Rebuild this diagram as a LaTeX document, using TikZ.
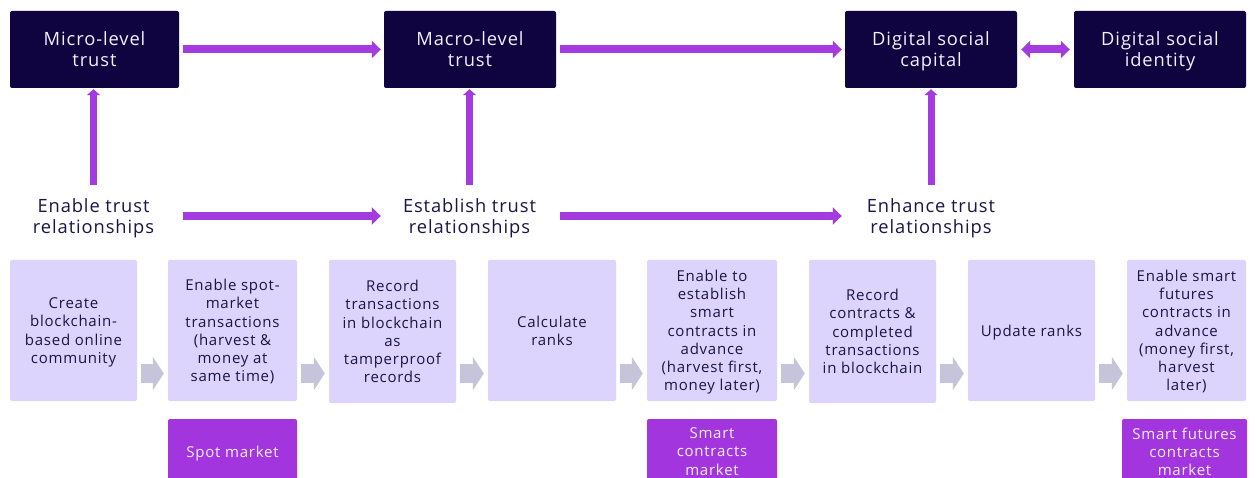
\documentclass[tikz,border=0pt]{standalone}
\usepackage{fontspec}
\setmainfont[LetterSpace=5]{Open Sans}
\usetikzlibrary{arrows.meta,calc}
\definecolor{navy}{HTML}{0F0340}
\definecolor{arrowc}{HTML}{A33BE0}
\definecolor{mktc}{HTML}{A235DD}
\definecolor{lightc}{HTML}{DCD4FC}
\definecolor{grayc}{HTML}{C6C4DA}
\definecolor{txtc}{HTML}{1A1548}
\definecolor{whitec}{HTML}{F4F0FF}
\begin{document}
\begin{tikzpicture}[x=1pt,y=-1pt,
  topbox/.style={fill=navy, rounded corners=2pt, text=whitec, font=\fontsize{18.3}{21}\selectfont, align=center, minimum height=77pt, inner sep=0pt, text depth=0pt},
  midlbl/.style={text=txtc, font=\fontsize{18.3}{21}\selectfont, align=center, inner xsep=0pt, inner ysep=14pt},
  stepbox/.style={fill=lightc, rounded corners=2pt, text=txtc, font=\fontsize{15}{18.2}\selectfont, align=center, inner sep=0pt, minimum height=141pt, text depth=0pt},
  mktbox/.style={fill=mktc, rounded corners=2pt, text=whitec, font=\fontsize{15}{18.2}\selectfont, align=center, inner sep=0pt, minimum height=65pt, text depth=0pt},
  parrow/.style={draw=arrowc, line width=8pt, -{Triangle[length=9pt,width=17pt]}},
  pdarrow/.style={draw=arrowc, line width=8pt, {Triangle[length=9pt,width=17pt]}-{Triangle[length=9pt,width=17pt]}},
  vparrow/.style={draw=arrowc, line width=7pt, -{Triangle[length=6pt,width=13pt]}},
  garrow/.style={draw=grayc, line width=19pt, -{Triangle[length=11pt,width=33pt]}, shorten <=4pt, shorten >=4pt}
]
\clip (0,0) rectangle (1256,478);
\fill[white] (0,0) rectangle (1256,478);

% top boxes
\node[topbox, minimum width=169pt] (micro) at (94.5,49.5) {Micro-level\\trust};
\node[topbox, minimum width=172pt] (macro) at (470,49.5) {Macro-level\\trust};
\node[topbox, minimum width=172pt] (capital) at (931,49.5) {Digital social\\capital};
\node[topbox, minimum width=172pt] (identity) at (1160,49.5) {Digital social\\identity};

% middle labels
\node[midlbl] (l1) at (93.5,218.5) {Enable trust\\relationships};
\node[midlbl] (l2) at (469.5,218.5) {Establish trust\\relationships};
\node[midlbl] (l3) at (931,218.5) {Enhance trust\\relationships};

% step boxes
\node[stepbox, minimum width=127pt] (b1) at (73.5,330.5) {Create\\blockchain-\\based online\\community};
\node[stepbox, minimum width=129pt] (b2) at (232.5,330.5) {Enable spot-\\market\\transactions\\(harvest \&\\money at\\same time)};
\node[stepbox, minimum width=127pt, minimum height=143pt] (b3) at (392.5,331.5) {Record\\transactions\\in blockchain\\as\\tamperproof\\records};
\node[stepbox, minimum width=128pt] (b4) at (552,330.5) {Calculate\\ranks};
\node[stepbox, minimum width=130pt] (b5) at (712,330.5) {Enable to\\establish\\smart\\contracts in\\advance\\(harvest first,\\money later)};
\node[stepbox, minimum width=127pt, minimum height=143pt] (b6) at (872.5,331.5) {Record\\contracts \&\\completed\\transactions\\in blockchain};
\node[stepbox, minimum width=127pt] (b7) at (1031.5,330.5) {Update ranks};
\node[stepbox, minimum width=119pt] (b8) at (1186.5,330.5) {Enable smart\\futures\\contracts in\\advance\\(money first,\\harvest\\later)};

% market boxes
\node[mktbox, minimum width=129pt] (m1) at (232.5,451.5) {Spot market};
\node[mktbox, minimum width=130pt] (m2) at (712,451.5) {Smart\\contracts\\market};
\node[mktbox, minimum width=125pt] (m3) at (1184.5,451.5) {Smart futures\\contracts\\market};

% top arrows
\draw[parrow, shorten <=4pt, shorten >=3pt] (micro.east) -- (macro.west);
\draw[parrow, shorten <=4pt, shorten >=3pt] (macro.east) -- (capital.west);
\draw[pdarrow, shorten <=4pt, shorten >=4pt] (capital.east) -- (identity.west);

% vertical arrows
\draw[vparrow, shorten >=1pt] (l1.north) -- (l1.north |- micro.south);
\draw[vparrow, shorten >=1pt] (l2.north) -- (l2.north |- macro.south);
\draw[vparrow, shorten >=1pt] (l3.north) -- (l3.north |- capital.south);

% middle arrows
\draw[parrow, shorten <=4pt, shorten >=3pt] (micro.east |- 0,216) -- (macro.west |- 0,216);
\draw[parrow, shorten <=4pt, shorten >=3pt] (macro.east |- 0,216) -- (capital.west |- 0,216);

% gray step arrows
\foreach \a/\b in {b1/b2,b2/b3,b3/b4,b4/b5,b5/b6,b6/b7,b7/b8}{
  \draw[garrow] ($(\a.east |- 0,373.5)$) -- ($(\b.west |- 0,373.5)$);
}
\end{tikzpicture}
\end{document}
